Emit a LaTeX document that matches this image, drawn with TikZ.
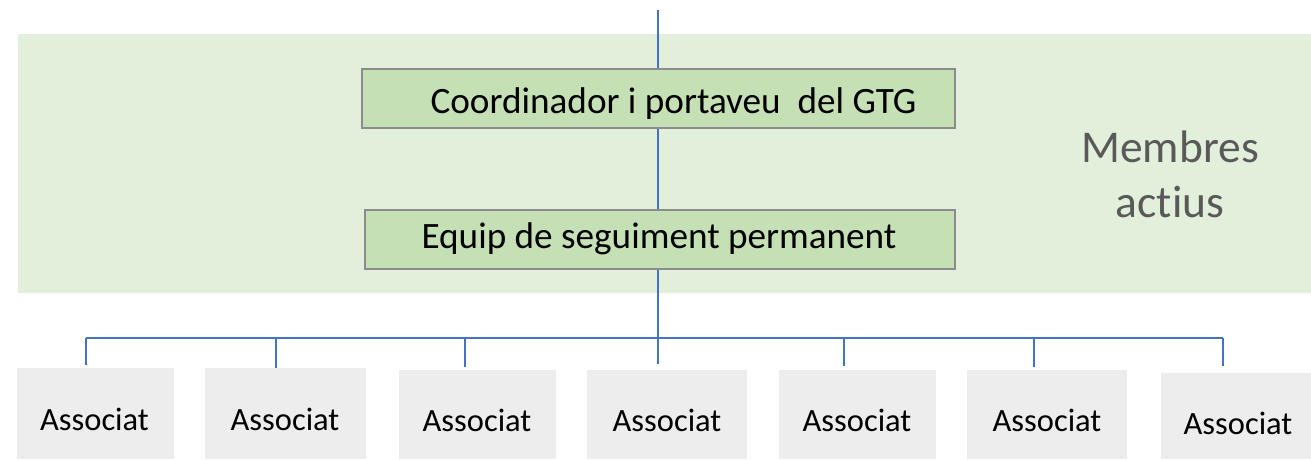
\documentclass[tikz,border=0pt]{standalone}
\usepackage{fontspec}
\setmainfont[Ligatures=NoCommon]{Carlito}
\definecolor{band}{HTML}{E2EFDA}
\definecolor{boxgreen}{HTML}{C5E0B4}
\definecolor{boxedge}{HTML}{8C8C8C}
\definecolor{assoc}{HTML}{EDEDED}
\definecolor{conn}{HTML}{4472C4}
\definecolor{lbl}{HTML}{595959}
\tikzset{
  greenbox/.style={draw=boxedge, line width=1.5pt, fill=boxgreen, inner sep=0pt},
  assocbox/.style={fill=assoc, inner sep=0pt},
  bigtxt/.style={anchor=base, inner sep=0pt, font=\fontsize{37.2}{41}\selectfont},
  assoctxt/.style={anchor=base, inner sep=0pt, font=\fontsize{32.5}{36}\selectfont},
  conline/.style={draw=conn, line width=2.8pt},
  stemline/.style={draw=conn, line width=2pt},
}
\begin{document}
\begin{tikzpicture}[x=1pt, y=-1pt]
\useasboundingbox (0,0) rectangle (1311,459);
% background band
\node[fill=band, inner sep=0pt, minimum width=1293pt, minimum height=259pt, anchor=north west] (bandbg) at (18,34) {};
% green boxes
\node[greenbox, minimum width=593pt, minimum height=59pt] (coord) at (658.5,98.5) {};
\node[greenbox, minimum width=590pt, minimum height=59pt] (equip) at (660,239.5) {};
\node[bigtxt] (coordtxt) at (673.5,113) {Coordinador i portaveu\ \ del GTG};
\node[bigtxt] (equiptxt) at (659,248) {Equip de seguiment permanent};
% label
\node[anchor=base, inner sep=0pt, text=lbl, font=\fontsize{45.5}{50}\selectfont] (memb) at (1170,162) {Membres};
\node[anchor=base, inner sep=0pt, text=lbl, font=\fontsize{45.5}{50}\selectfont] (act) at (1170,217) {actius};
% associat boxes
\node[assocbox, minimum width=157pt, minimum height=91pt] (a1) at (95.5,413.5) {};
\node[assocbox, minimum width=161pt, minimum height=91pt] (a2) at (285.5,413.5) {};
\node[assocbox, minimum width=157pt, minimum height=89pt] (a3) at (477.5,414.5) {};
\node[assocbox, minimum width=160pt, minimum height=89pt] (a4) at (667,414.5) {};
\node[assocbox, minimum width=157pt, minimum height=89pt] (a5) at (857.5,414.5) {};
\node[assocbox, minimum width=160pt, minimum height=89pt] (a6) at (1047,414.5) {};
\node[assocbox, minimum width=150pt, minimum height=86pt] (a7) at (1236,416) {};
\node[assoctxt] (t1) at (94.5,430) {Associat};
\node[assoctxt] (t2) at (285,430) {Associat};
\node[assoctxt] (t3) at (477,431.5) {Associat};
\node[assoctxt] (t4) at (667,431.5) {Associat};
\node[assoctxt] (t5) at (857,431.5) {Associat};
\node[assoctxt] (t6) at (1047,431) {Associat};
\node[assoctxt] (t7) at (1238,434) {Associat};
% connector coordinates
\coordinate (top) at (658,10);
\coordinate (bus) at (658,338);
\coordinate (b1) at (86,338);
\coordinate (b2) at (276,338);
\coordinate (b3) at (465,338);
\coordinate (b5) at (844,338);
\coordinate (b6) at (1034,338);
\coordinate (b7) at (1223,338);
\coordinate (d1) at (86,365);
\coordinate (d2) at (276,368);
\coordinate (d3) at (465,367);
\coordinate (d4) at (658,364);
\coordinate (d5) at (844,366);
\coordinate (d6) at (1034,367);
\coordinate (d7) at (1223,366);
% connectors
\draw[stemline] (top) -- (top |- coord.north);
\draw[stemline] (coord.south -| top) -- (equip.north -| top);
\draw[stemline] (equip.south -| top) -- (d4);
\draw[conline] (b1) -- (b7);
\draw[conline] (b1) -- (d1);
\draw[conline] (b2) -- (d2);
\draw[conline] (b3) -- (d3);
\draw[conline] (b5) -- (d5);
\draw[conline] (b6) -- (d6);
\draw[conline] (b7) -- (d7);
\end{tikzpicture}
\end{document}
